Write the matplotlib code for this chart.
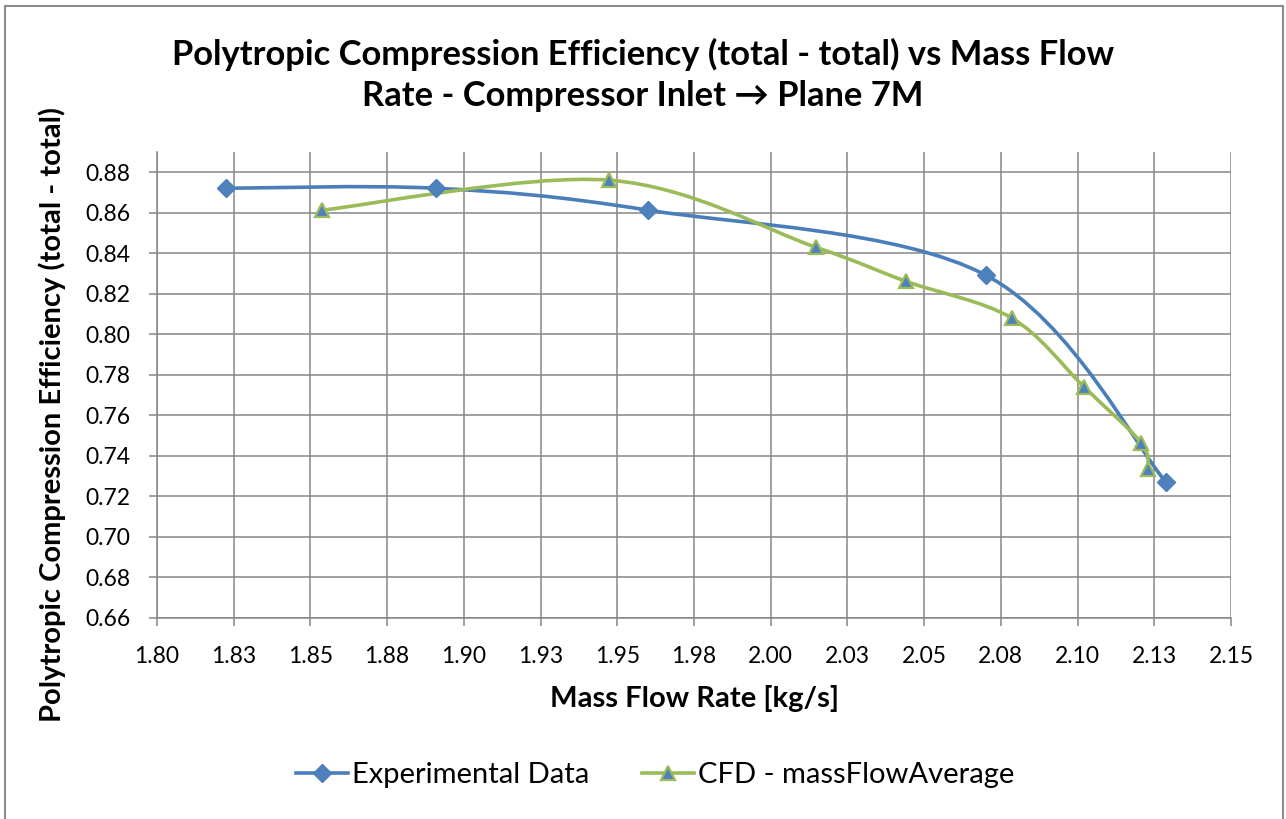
import matplotlib
matplotlib.use("Agg")
import matplotlib.pyplot as plt
import numpy as np
from matplotlib.path import Path
from matplotlib.patches import PathPatch, Rectangle
from matplotlib.lines import Line2D

plt.rcParams['font.family'] = ['Lato', 'DejaVu Sans']

# mass flow [kg/s] and polytropic efficiency (total - total)
exp_flow = [1.8225, 1.8909, 1.9600, 2.0701, 2.1288]
exp_eff = [0.8721, 0.8721, 0.8613, 0.8292, 0.7271]

cfd_flow = [1.8538, 1.9473, 2.0147, 2.0440, 2.0786, 2.1022, 2.1208, 2.1229]
cfd_eff = [0.8613, 0.8761, 0.8430, 0.8262, 0.8080, 0.7739, 0.7463, 0.7335]

x_ticks = [1.800, 1.825, 1.850, 1.875, 1.900, 1.925, 1.950, 1.975,
           2.000, 2.025, 2.050, 2.075, 2.100, 2.125, 2.150]
x_labels = ['1.80', '1.83', '1.85', '1.88', '1.90', '1.93', '1.95', '1.98',
            '2.00', '2.03', '2.05', '2.08', '2.10', '2.13', '2.15']
y_ticks = [0.66, 0.68, 0.70, 0.72, 0.74, 0.76, 0.78, 0.80, 0.82, 0.84, 0.86, 0.88]

BLUE = '#4A7EBB'
BLUE_FILL = '#4F81BD'
GREEN = '#9BBB59'
GRID = '#868686'


def smooth_path(xs, ys):
    # excel-like smoothed line: cubic bezier segments, catmull-rom tangents
    p = np.column_stack([xs, ys])
    verts = [p[0]]
    codes = [Path.MOVETO]
    n = len(p)
    for i in range(n - 1):
        p0 = p[i - 1] if i > 0 else p[i]
        p3 = p[i + 2] if i + 2 < n else p[i + 1]
        c1 = p[i] + (p[i + 1] - p0) / 6.0
        c2 = p[i + 1] - (p3 - p[i]) / 6.0
        verts += [c1, c2, p[i + 1]]
        codes += [Path.CURVE4] * 3
    return Path(verts, codes)


W, H = 1286, 819
fig = plt.figure(figsize=(W / 100, H / 100), dpi=100)
ax = fig.add_axes([157 / W, 1 - 618 / H, (1231 - 157) / W, (618 - 152) / H])

ax.add_patch(PathPatch(smooth_path(exp_flow, exp_eff), fill=False,
                       edgecolor=BLUE, lw=2.6, capstyle='round', zorder=3))
ax.add_patch(PathPatch(smooth_path(cfd_flow, cfd_eff), fill=False,
                       edgecolor=GREEN, lw=2.6, capstyle='round', zorder=3))
ax.plot(exp_flow, exp_eff, ls='none', marker='D', ms=9.5,
        mfc=BLUE_FILL, mec=BLUE, mew=1, zorder=4)
ax.plot(cfd_flow, cfd_eff, ls='none', marker='^', ms=10,
        mfc=BLUE_FILL, mec=GREEN, mew=1.6, zorder=4)

ax.set_xlim(1.80, 2.15)
ax.set_ylim(0.66, 0.89)
ax.set_xticks(x_ticks)
ax.set_xticklabels(x_labels)
ax.set_yticks(y_ticks)
ax.set_yticklabels(['%.2f' % v for v in y_ticks])

ax.grid(True, color=GRID, lw=1.1)
ax.set_axisbelow(True)
for s in ['top', 'right']:
    ax.spines[s].set_visible(False)
for s in ['left', 'bottom']:
    ax.spines[s].set_color(GRID)
    ax.spines[s].set_linewidth(1.1)
ax.tick_params(direction='out', length=6, width=1.1, color=GRID,
               labelsize=16.5, labelcolor='black')
ax.tick_params(axis='x', pad=14)
ax.tick_params(axis='y', pad=13)

ax.set_xlabel('Mass Flow Rate [kg/s]', fontsize=21, fontweight='bold')
ax.xaxis.set_label_coords(0.5, (618 - 699) / (618 - 152), transform=ax.transAxes)
ax.xaxis.label.set_va('center')
ax.set_ylabel('Polytropic Compression Efficiency (total - total)', fontsize=21,
              fontweight='bold')
ax.yaxis.set_label_coords((52 - 157) / (1231 - 157), (618 - 414) / (618 - 152),
                          transform=ax.transAxes)
ax.yaxis.label.set_va('center')

fig.text(0.5, 1 - 75 / H,
         'Polytropic Compression Efficiency (total - total) vs Mass Flow\n'
         'Rate - Compressor Inlet \u2192 Plane 7M',
         ha='center', va='center', fontsize=24.8, fontweight='bold',
         linespacing=1.35)

handles = [
    Line2D([], [], color=BLUE, lw=2.6, marker='D', ms=9.5, mfc=BLUE_FILL, mec=BLUE),
    Line2D([], [], color=GREEN, lw=2.6, marker='^', ms=10, mfc=BLUE_FILL,
           mec=GREEN, mew=1.6),
]
fig.legend(handles, ['Experimental Data', 'CFD - massFlowAverage'],
           loc='center', bbox_to_anchor=(655 / W, 1 - 775 / H), ncol=2,
           frameon=False, fontsize=21, handlelength=1.8, handletextpad=0.12,
           columnspacing=1.8)

# chart area border, bottom edge runs off the image
fig.patches.append(Rectangle((5 / W, -0.02), (1283 - 5) / W, 1.02 - 6 / H,
                             transform=fig.transFigure, fill=False,
                             edgecolor='#8C8C8C', lw=1.5))

fig.savefig('out.png', dpi=100)
